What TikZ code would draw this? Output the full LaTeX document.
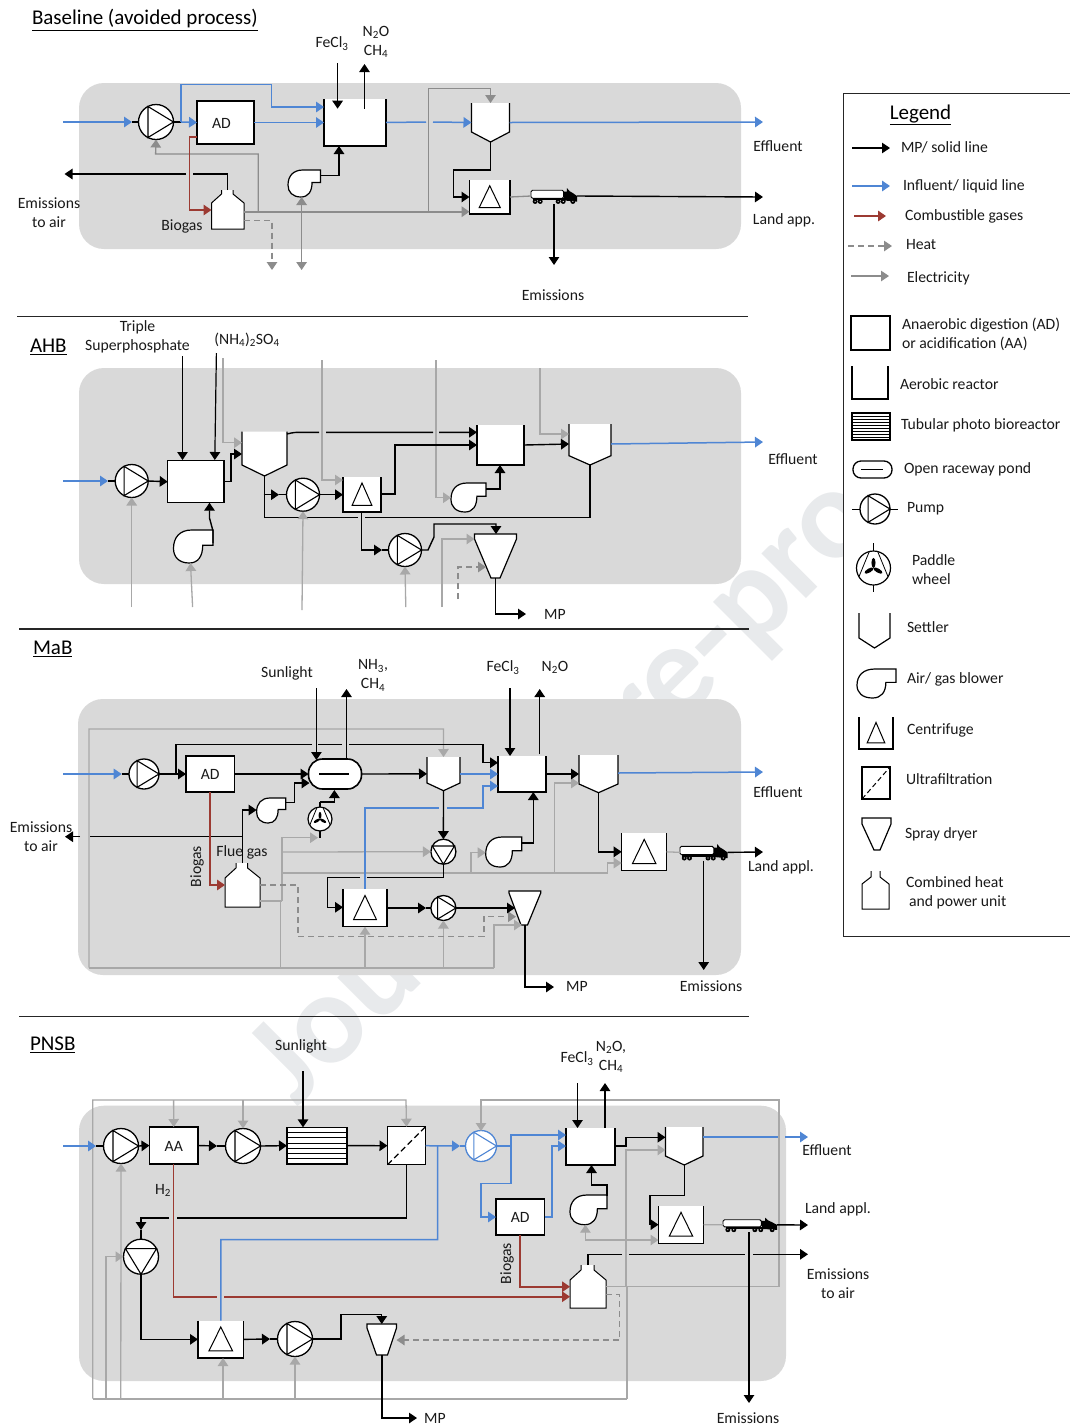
\documentclass[tikz,border=0pt]{standalone}
\usepackage{fontspec}
\setmainfont{Carlito}
\usetikzlibrary{arrows.meta,calc}
\definecolor{panel}{HTML}{D9D9D9}
\definecolor{liqblue}{HTML}{4F86D4}
\definecolor{gasred}{HTML}{9C3A32}
\definecolor{elecd}{HTML}{8C8C8C}
\definecolor{elecl}{HTML}{A8A8A8}
\definecolor{wmark}{HTML}{E8EAEC}
\tikzset{
 panelbg/.style={fill=panel,rounded corners=25pt},
 anc/.style={rectangle,inner sep=0pt,outer sep=0pt},
 eq/.style={line width=1.2pt,draw=black},
 eqthin/.style={line width=1pt,draw=black},
 blk/.style={line width=1.4pt,draw=black},
 blkt/.style={line width=1.2pt,draw=black},
 liq/.style={line width=1.5pt,draw=liqblue},
 gas/.style={line width=1.6pt,draw=gasred},
 elecb/.style={line width=2pt,draw=elecd},
 elecg/.style={line width=1.3pt,draw=elecd},
 elec/.style={line width=1.3pt,draw=elecl},
 heat/.style={line width=1.3pt,draw=elecd,dash pattern=on 6pt off 4pt},
 sep/.style={line width=.9pt,draw=black!85},
 lbl/.style={inner sep=0pt,outer sep=0pt,align=center,yshift=-.5pt,font=\fontsize{15.7}{19}\selectfont,text=black!90},
 lbll/.style={lbl,anchor=west,align=left},
 ttl/.style={inner sep=0pt,outer sep=0pt,font=\fontsize{21}{24}\selectfont},
}
\newcommand{\anchorbox}[5]{%
 \pgfmathsetmacro\Wu{#4-(#2)}\pgfmathsetmacro\Hu{#5-(#3)}%
 \node[anc,minimum width=\Wu pt,minimum height=\Hu pt] (#1) at ({(#2+#4)/2},{(#3+#5)/2}) {};}
\newcommand{\unitbox}[6]{\anchorbox{#1}{#2}{#3}{#4}{#5}%
 \draw[eq,fill=white] (#2,#3) rectangle (#4,#5);
 \node[lbl] (#1t) at (#1.center) {#6};}
\newcommand{\reactorunit}[5]{\anchorbox{#1}{#2}{#3}{#4}{#5}%
 \fill[white] (#2,#3) rectangle (#4,#5);
 \draw[eq] (#2,#3) -- (#2,#5) -- (#4,#5) -- (#4,#3);}
\newcommand{\settlerunit}[6]{\anchorbox{#1}{#2}{#3}{#4}{#5}%
 \fill[white] (#2,#3) -- (#2,#6) -- ({(#2+#4)/2},#5) -- (#4,#6) -- (#4,#3) -- cycle;
 \draw[eq] (#2,#3) -- (#2,#6) -- ({(#2+#4)/2},#5) -- (#4,#6) -- (#4,#3);}
\newcommand{\centrifugeunit}[5]{\reactorunit{#1}{#2}{#3}{#4}{#5}%
 \draw[eqthin,line join=miter] ({(#2+#4)/2},{#3+.17*(#5-#3)}) -- ({#2+.24*(#4-#2)},{#3+.81*(#5-#3)}) -- ({#2+.76*(#4-#2)},{#3+.81*(#5-#3)}) -- cycle;}
\newcommand{\blowerunit}[5]{\anchorbox{#1}{#2}{#3}{#4}{#5}%
 \begin{scope}[shift={(#2,#3)},x=\Wu pt,y=-\Hu pt]
 \draw[eq,fill=white] (1,0) -- (1,.46) -- (.74,.46) .. controls (.74,.8) and (.62,1) .. (.4,1) .. controls (.14,1) and (0,.82) .. (0,.56) .. controls (0,.22) and (.16,0) .. (.46,0) -- cycle;
 \end{scope}}
\newcommand{\pumpunit}[6]{%
 \node[circle,draw=#6,fill=white,line width=1.3pt,inner sep=0pt,outer sep=0pt,minimum size={2*#4*1pt}] (#1) at (#2,#3) {};
 \begin{scope}[shift={(#2,#3)},rotate=#5]
 \draw[draw=#6,line width=1.1pt] ({-.46*#4},{-.887*#4}) -- (#4,0) -- ({-.46*#4},{.887*#4}) -- cycle;
 \end{scope}}
\newcommand{\sprayunit}[8]{\anchorbox{#1}{#2}{#3}{#4}{#5}%
 \draw[eq,fill=white] (#2,#3) -- (#4,#3) -- (#4,#6) -- (#8,#5) -- (#7,#5) -- (#2,#6) -- cycle;}
\newcommand{\chpunit}[9]{\anchorbox{#1}{#2}{#3}{#4}{#5}%
 \fill[white] (#6,#3) -- (#6,#8) -- (#2,#9) -- (#2,#5) -- (#4,#5) -- (#4,#9) -- (#7,#8) -- (#7,#3) -- cycle;
 \draw[eqthin] (#6,#3) -- (#6,#8) -- (#2,#9) -- (#2,#5) -- (#4,#5) -- (#4,#9) -- (#7,#8) -- (#7,#3);}
\newcommand{\truckunit}[5]{\anchorbox{#1}{#2}{#3}{#4}{#5}%
 \begin{scope}[shift={(#2,#3)},x=\Wu pt,y=-\Hu pt]
 \draw[line width=.9pt,fill=white,rounded corners=1.5pt] (.0,.14) rectangle (.71,.64);
 \fill[black] (.72,.78) -- (.72,.22) -- (.78,.22) -- (.78,0) -- (.84,.2) -- (.9,.3) -- (1,.5) -- (1,.85) -- cycle;
 \fill[black] (.05,.62) rectangle (.8,.76);
 \foreach \wx in {.09,.2,.59,.7,.91}{\fill[black] (\wx,.84) circle (2.5pt); \fill[white] (\wx,.84) circle (.6pt);}
 \end{scope}}
\newcommand{\paddleunit}[4]{%
 \node[circle,draw=black,fill=white,line width=1.2pt,inner sep=0pt,outer sep=0pt,minimum size={2*#4*1pt}] (#1) at (#2,#3) {};
 \begin{scope}[shift={(#2,#3)}]
 \draw[line width=.8pt] ({-.25*#4},{-.96*#4}) -- ({-.85*#4},{.5*#4}) ({.25*#4},{-.96*#4}) -- ({.85*#4},{.5*#4});
 \foreach \ang in {90,210,330}{\fill[black,rotate=\ang] ({.3*#4},0) ellipse ({.3*#4} and {.12*#4});}
 \end{scope}}
\newcommand{\legarrow}[5]{\coordinate (#1a) at (#3,#5); \coordinate (#1b) at (#4,#5); \draw[#2,->] (#1a) -- (#1b);}
\begin{document}
\begin{tikzpicture}[x=1pt,y=-1pt,>={Triangle[length=8pt,width=10.5pt]}]
\clip (0,0) rectangle (1070,1425);
\fill[white] (0,0) rectangle (1070,1425);
\node[anchor=base west,rotate=45,inner sep=0pt,text=wmark,font=\bfseries\fontsize{130}{130}\selectfont] (wm) at (297,1108) {Journal Pre-proof};
%% ---------- Baseline
\fill[panelbg] (79,83) rectangle (741,249);
\node[ttl,anchor=west] (btitle) at (32,20) {\underline{Baseline (avoided process)}};
\node[lbl] (bfe) at (332,43) {FeCl\textsubscript{3}};
\node[lbl] (bn2o) at (376,41) {N\textsubscript{2}O\\CH\textsubscript{4}};
\node[lbl] (beff) at (778,146) {Effluent};
\node[lbl] (bland) at (784,220) {Land app.};
\node[lbl] (bemair) at (49,212) {Emissions\\to air};
\node[lbl] (bbio) at (182,226) {Biogas};
\node[lbl] (bem) at (553,295) {Emissions};
\pumpunit{bp}{156}{122}{17.5}{0}{black}
\unitbox{bad}{197}{101}{254}{144}{AD\hspace{8pt}}
\reactorunit{bre}{324}{99}{386}{146}
\settlerunit{bse}{471.5}{103}{509.5}{142}{132}
\blowerunit{bbl}{288}{170}{320.5}{197}
\centrifugeunit{bce}{469.5}{180}{510}{214}
\truckunit{btr}{531}{188}{577}{204}
\chpunit{bch}{211.5}{190}{244}{229}{221.5}{233}{194}{203}
\coordinate (bin) at (63,122); \coordinate (bit) at (132,122); \coordinate (bst) at (181,122);
\draw[liq,->] (bin) -- (bit);
\draw[blk] (bit) -- (bp.west);
\draw[blk] (bp.east) -- (bst);
\draw[liq,->] (bst) -- (bad.west);
\draw[liq,->] (bst) |- (271.4,84.7) |- (bre.west|-0,107);
\draw[liq,->] (bad.east) -- (bre.west);
\coordinate (beffe) at (763,122);
\draw[liq,->] (bre.east) -- (426,122) (433,122) -- (bse.west);
\draw[liq,->] (bse.east) -- (beffe);
\draw[elecb,->] (bch.east|-0,211.7) -- (bce.west|-0,211.7);
\draw[elecg,->] (258.2,211.7) |- (155.6,154) -- (bp.south);
\draw[elecg,->] (428.6,211.7) |- (490.5,88.3) -- (bse.north);
\coordinate (bdbl) at (301.6,270);
\draw[elecg,<->] (301.6,0|-bbl.south) -- (bdbl);
\coordinate (bheat) at (272,270);
\draw[heat,->] (bch.east|-0,220.7) -| (bheat);
\draw[gas,->] (bad.west|-0,136.7) -| (189.4,210) -- (bch.west|-0,210);
\coordinate (bair) at (64.5,174);
\draw[blk,->] (bch.north) |- (193,174) (186,174) -- (bair);
\draw[blk,->] (bbl.east|-0,175.7) -| (339,0|-bre.south);
\coordinate (bfei) at (337.6,63); \coordinate (bfeo) at (337.6,108.7);
\draw[blkt,->] (bfei) -- (bfeo);
\coordinate (bgi) at (364.5,108.7); \coordinate (bgo) at (364.5,64);
\draw[blkt,->] (bgi) -- (bgo);
\draw[blk,->] (bse.south) |- (453.5,170) |- (bce.west);
\draw[elecg] (bce.east) -- (btr.west);
\coordinate (blan) at (763,197);
\draw[blk,->] (btr.east) -- (blan);
\coordinate (bemo) at (554,265);
\draw[blkt,->] (554,0|-btr.south) -- (bemo);
%% ---------- AHB
\draw[sep] (17,316) -- (748,316);
\fill[panelbg] (79,368) rectangle (741,584);
\node[ttl,anchor=west] (htitle) at (30,347) {\underline{AHB}};
\node[lbl] (htsp) at (137.5,336.5) {Triple\\Superphosphate};
\node[lbl] (hnh) at (247,339) {(NH\textsubscript{4})\textsubscript{2}SO\textsubscript{4}};
\node[lbl] (heff) at (793,459) {Effluent};
\node[lbl] (hmp) at (555,614) {MP};
\pumpunit{hp1}{131.7}{481}{16.5}{0}{black}
\unitbox{hd}{167.7}{460.7}{224}{502.7}{}
\settlerunit{hs1}{242}{431.7}{287}{476}{465}
\pumpunit{hp2}{303}{494.7}{16.5}{0}{black}
\centrifugeunit{hc}{343}{477}{381}{512}
\pumpunit{hp3}{405}{550}{16.5}{0}{black}
\sprayunit{hsp}{474.5}{534}{516.5}{578}{539}{491}{500}
\reactorunit{hr}{477}{425}{524}{465}
\blowerunit{hb1}{173.5}{530}{213}{563}
\blowerunit{hb2}{451}{483}{486}{512}
\settlerunit{hs2}{569}{424}{611}{465}{455.7}
\coordinate (hin) at (63,481); \coordinate (hit) at (108,481);
\draw[liq,->] (hin) -- (hit);
\draw[blk] (hit) -- (hp1.west);
\draw[blk,->] (hp1.east) -- (hd.west);
\coordinate (htp) at (182.5,356); \coordinate (htq) at (182.5,460);
\draw[blkt,->] (htp) -- (htq);
\coordinate (hnp) at (216.4,353); \coordinate (hnq) at (214.8,460);
\draw[blkt,->] (hnp) -- (hnq);
\coordinate (hg1) at (223,358);
\draw[elec,->] (hg1) |- (hs1.west|-0,442.7);
\draw[blk,->] (hd.east) -| (231,454) -- (hs1.west|-0,454);
\draw[blk,->] (hs1.east|-0,434) .. controls (293,432.3) and (297,432.3) .. (300,432.3) -- (319,432.3) (326,432.3) -- (433,432.3) (439,432.3) -- (hr.west|-0,432.3);
\coordinate (hg2) at (322,360);
\draw[elec,->] (hg2) |- (hc.west|-0,480);
\coordinate (hg3) at (436,360);
\draw[elec,->] (hg3) |- (hb2.west|-0,497.7);
\coordinate (hg4) at (540,368);
\draw[elec,->] (hg4) |- (hs2.west|-0,434);
\draw[blk] (hs1.south) |- (358,517.7) (365,517.7) -| (hs2.south);
\coordinate (hbr) at (263.5,494.7); \coordinate (hbt) at (279,494.7);
\draw[blk,->] (hbr) -- (hbt);
\draw[blk] (hbt) -- (hp2.west);
\draw[blk,->] (hp2.east) -- (hc.west|-hp2.east);
\draw[blk,->] (hc.east|-0,494) -| (395,445) -- (hr.west|-0,445);
\coordinate (hct) at (382,550);
\draw[blk,->] (361.4,0|-hc.south) |- (hct);
\draw[blk] (hct) -- (hp3.west);
\draw[blk,->] (hp3.east) -- (428,550) -- (434,537) |- (496,524) -- (496,0|-hsp.north);
\coordinate (hg5) at (442,607);
\draw[elec,->] (hg5) |- (hsp.west|-0,539);
\coordinate (hh) at (458,599);
\draw[heat,->] (hh) |- (486,567);
\draw[blk,->] (hr.east|-0,445) -- (hs2.west|-0,444);
\coordinate (heffe) at (763,442);
\draw[liq,->] (hs2.east|-0,444) -- (heffe);
\coordinate (hmpe) at (526,614);
\draw[blk,->] (hsp.south) |- (hmpe);
\draw[blk,->] (hb1.east|-0,543) -- (213,531) -- (209.5,518) -- (209.5,0|-hd.south);
\draw[blk,->] (hb2.east|-0,489) -| (500,0|-hr.south);
\coordinate (hu1) at (131.7,607); \draw[elec,->] (hu1) -- (hp1.south);
\coordinate (hu2) at (192.6,607); \coordinate (hu2b) at (190.5,563); \draw[elec,->] (hu2) -- (hu2b);
\coordinate (hu3) at (302,610); \draw[elec,->] (hu3) -- (hp2.south);
\coordinate (hu4) at (405.8,607); \draw[elec,->] (hu4) -- (hp3.south);
%% ---------- MaB
\draw[sep,line width=1.2pt] (19,629) -- (749,629);
\fill[panelbg] (78,699) rectangle (741,975);
\node[ttl,anchor=west] (mtitle) at (33,649) {\underline{MaB}};
\node[lbl] (msun) at (287,673) {Sunlight};
\node[lbl] (mnh) at (373,675) {NH\textsubscript{3},\\CH\textsubscript{4}};
\node[lbl] (mfe) at (503,667) {FeCl\textsubscript{3}};
\node[lbl] (mn2o) at (555,667) {N\textsubscript{2}O};
\node[lbl] (meff) at (778,792) {Effluent};
\node[lbl] (mland) at (781,867) {Land appl.};
\node[lbl] (mair) at (41,836) {Emissions\\to air};
\node[lbl] (mmp) at (577,986) {MP};
\node[lbl] (mem) at (711,986) {Emissions};
\pumpunit{mp1}{144}{774}{15}{0}{black}
\unitbox{mad}{186}{756}{234.4}{792}{AD}
\node[draw=black,line width=1.6pt,fill=white,rounded corners=14pt,inner sep=0pt,outer sep=0pt,minimum width=53pt,minimum height=30pt] (mpo) at (335,774) {};
\coordinate (mpoa) at (319,774); \coordinate (mpob) at (349,774);
\draw[blk] (mpoa) -- (mpob);
\settlerunit{ms1}{427}{757}{460}{790.7}{783}
\reactorunit{mr}{498}{756}{546}{792}
\settlerunit{ms2}{579}{755}{618}{792.7}{784}
\centrifugeunit{mc1}{621.7}{833}{666.7}{870.7}
\truckunit{mtr}{680}{844}{727.5}{860.7}
\blowerunit{mb1}{256.6}{798}{285.7}{823}
\coordinate (mpdt) at (320,802); \coordinate (mpdb) at (320,838);
\draw[blkt] (mpdt) -- (mpdb);
\paddleunit{mpd}{320}{819}{12}
\pumpunit{mpu}{443.4}{851.7}{12.5}{-90}{black}
\blowerunit{mb2}{485.7}{837}{521.7}{867}
\chpunit{mch}{225}{863}{260}{907}{236}{247.6}{868}{878}
\centrifugeunit{mc2}{343}{889}{387}{926.7}
\pumpunit{mp3}{443.4}{908}{12.5}{0}{black}
\sprayunit{msp}{509}{891}{540.7}{925}{893}{521}{527.5}
\node[lbl,rotate=90] (mbio) at (197,866) {Biogas};
% electricity
\coordinate (mg0) at (282,901);
\draw[elec] (mch.east|-mg0) -- (mg0);
\draw[elec,->] (mg0) |- (318,837.7);
\draw[elec,->] (282,852) -- (mpu.west);
\draw[elec,->] (282,873) -| (607.4,863) -- (mc1.west|-0,863);
\draw[elec,->] (471,873) |- (mb2.west|-0,852.7);
\draw[elec,->] (554.5,873) |- (ms2.west|-0,783);
\draw[elec,line width=1.6pt] (280.4,901) -- (280.4,967.7);
\coordinate (mgl) at (89,967.7);
\draw[elec,line width=1.6pt] (mgl) -- (494,967.7);
\draw[elec,->] (494,967.7) |- (522,925);
\draw[elec,->] (mgl) |- (443.4,729) -- (ms1.north);
\draw[elec,->] (365,967.7) -- (mc2.south);
\draw[elec,->] (443.4,967.7) -- (mp3.south);
\draw[heat,->] (mch.east|-0,885) -| (298,936.7) -| (484,916.7) -- (516,916.7);
% black
\coordinate (min) at (63,774); \coordinate (mit) at (121.7,774);
\draw[liq,->] (min) -- (mit);
\draw[blk] (mit) -- (mp1.west);
\draw[blk,->] (mp1.east) -- (mad.west);
\draw[blk,->] (176,774) |- (312,744.3) (318,744.3) -- (342,744.3) (349,744.3) -| (483,762.7) -- (mr.west|-0,762.7);
\draw[blk,->] (mad.east) -- (mpo.west);
\draw[blk,->] (mpo.east) -- (ms1.west);
\draw[liq,->] (ms1.east|-0,774) -- (mr.west|-0,774);
\draw[blk,->] (mr.east|-0,774) -- (ms2.west|-0,774);
\coordinate (meffe) at (763,772);
\draw[liq,->] (ms2.east|-0,773) -- (meffe);
\draw[liq,->] (mc2.north) |- (439,808) (447,808) -| (483,786) -- (mr.west|-0,786);
\draw[blk,->] (ms1.south) -- (mpu.north);
\draw[blk,->] (mpu.south) |- (367,877.7) (360,877.7) -| (327.5,907.3) -- (mc2.west|-0,907.3);
\coordinate (mct) at (426,908);
\draw[blk,->] (mc2.east|-mct) -- (mct);
\draw[blk] (mct) -- (mp3.west);
\coordinate (mspt) at (515,908);
\draw[blk,->] (mp3.east) -- (mspt);
\coordinate (mmpe) at (554,987);
\draw[blk,->] (msp.south) |- (mmpe);
\coordinate (msuna) at (316.4,688); \coordinate (msunb) at (316.4,760);
\draw[blkt,->] (msuna) -- (msunb);
\coordinate (mupa) at (346.5,758); \coordinate (mupb) at (346.5,689);
\draw[blkt,->] (mupa) -- (mupb);
\coordinate (mfea) at (510,688); \coordinate (mfeb) at (510,756);
\draw[blkt,->] (mfea) -- (mfeb);
\coordinate (mua) at (539.7,754); \coordinate (mub) at (539.7,689);
\draw[blkt,->] (mua) -- (mub);
\draw[blk,->] (mpdt) -| (334.4,790);
\draw[blk,->] (mb1.east|-0,802.7) -| (294.7,783) -- (309.5,783);
\draw[blk,->] (mch.north) |- (mb1.west|-0,810);
\coordinate (mair2) at (65,836.7);
\draw[blk,->] (242.3,836.7) -- (90,836.7) (80,836.7) -- (mair2);
\draw[gas,->] (210,0|-mad.south) |- (mch.west|-0,885);
\draw[blk,->] (ms2.south) |- (mc1.west);
\draw[elec] (mc1.east) -- (mtr.west);
\coordinate (mlan) at (763,852);
\draw[blk,->] (mtr.east) -- (mlan);
\coordinate (mema) at (703.7,970);
\draw[blkt,->] (703.7,0|-mtr.south) -- (mema);
\draw[blk,->] (mb2.east|-0,843) -| (533.3,0|-mr.south);
\node[lbl] (mflue) at (242,852) {Flue gas};
%% ---------- PNSB
\draw[sep] (19,1016) -- (749,1016);
\fill[panelbg] (79,1105.7) rectangle (786,1381);
\node[ttl,anchor=west] (ptitle) at (30,1045) {\underline{PNSB}};
\node[lbl] (psun) at (301,1046) {Sunlight};
\node[lbl] (pfe) at (577,1058) {FeCl\textsubscript{3}};
\node[lbl] (pn2o) at (611,1056.5) {N\textsubscript{2}O,\\CH\textsubscript{4}};
\node[lbl] (peff) at (827,1150) {Effluent};
\node[lbl] (pland) at (838,1209) {Land appl.};
\node[lbl] (pair) at (838,1283.5) {Emissions\\to air};
\node[lbl] (pmp) at (435,1418) {MP};
\node[lbl] (pem) at (748,1418) {Emissions};
\node[lbl] (ph2) at (163,1190) {H\textsubscript{2}};
\node[lbl,rotate=90] (pbio) at (507,1263) {Biogas};
\pumpunit{pp1}{121}{1146}{17.5}{0}{black}
\unitbox{paa}{149.5}{1127}{198}{1164}{AA}
\pumpunit{pp2}{243}{1146}{17.5}{0}{black}
\unitbox{ptb}{287}{1127.3}{347}{1164}{}
\foreach \ty in {1132.5,1137.7,1143,1148.2,1153.4,1158.6}{\draw[line width=1pt] (287,\ty) -- (347,\ty);}
\unitbox{puf}{387.5}{1126.7}{425.5}{1164.7}{}
\draw[line width=1.2pt,dash pattern=on 6pt off 3.5pt] (puf.south west) -- (puf.north east);
\pumpunit{ppb}{481}{1146}{15.5}{0}{liqblue}
\reactorunit{pr}{566}{1128}{615}{1165}
\settlerunit{ps}{665.5}{1127}{703}{1165}{1156}
\unitbox{pad}{496}{1199}{544.5}{1235}{AD}
\blowerunit{pb}{570}{1195}{607}{1224.7}
\centrifugeunit{pc1}{658.5}{1206}{703.5}{1243.3}
\truckunit{ptr}{723}{1217.7}{777}{1232}
\chpunit{pch}{570}{1265}{606}{1308}{581}{594}{1270}{1280}
\pumpunit{ppd}{141}{1256.7}{17.5}{-90}{black}
\centrifugeunit{pc2}{198}{1320.7}{243.5}{1358}
\pumpunit{pp3}{295}{1339}{17.5}{0}{black}
\sprayunit{psp}{367}{1324}{396.5}{1355}{1328}{376.5}{387.5}
% electricity
\coordinate (pgbl) at (92.7,1398.7); \coordinate (pgbr) at (627,1398.7);
\draw[elec,line width=1.6pt] (pgbl) -- (pgbr);
\draw[elec,line width=1.6pt] (pgbr) -- (627,1286.7);
\draw[elec,->] (pgbl) |- (406,1100) -- (puf.north);
\draw[elec,->] (173.6,1100) -- (paa.north);
\draw[elec,->] (243,1100) -- (pp2.north);
\draw[elec,->] (120.8,1398.7) -- (pp1.south);
\draw[elec,->] (106,1398.7) |- (ppd.west);
\draw[elec,->] (223,1398.7) -- (223,0|-pc2.south);
\draw[elec,->] (295,1398.7) -- (pp3.south);
\draw[elec,->] (pch.east|-0,1286.7) -| (779,1100) -| (481,1131);
\draw[elec,->] (626,1286.7) |- (ps.west|-0,1150);
\draw[elec,->] (626,1240) -| (585.4,0|-pb.south);
\draw[elec,->] (626,1240) -- (pc1.west|-0,1240);
\draw[heat,->] (pch.east|-0,1294.7) -| (619.7,1340) -- (psp.east|-0,1340);
% process
\coordinate (pin) at (63,1146); \coordinate (pit) at (96,1146);
\draw[liq,->] (pin) -- (pit);
\draw[blk] (pit) -- (pp1.west);
\draw[blk,->] (pp1.east) -- (paa.west);
\coordinate (pat) at (217,1146);
\draw[blk,->] (paa.east) -- (pat);
\draw[blk] (pat) -- (pp2.west);
\draw[blk,->] (pp2.east) -- (ptb.west);
\draw[blk,->] (ptb.east) -- (puf.west);
\coordinate (psa) at (303,1071);
\draw[blk,->] (psa) -- (303,0|-ptb.north);
\coordinate (put) at (460,1146);
\draw[liq,->] (puf.east) -- (put);
\draw[liq] (put) -- (ppb.west);
\draw[liq] (437.5,1146) |- (220.8,1239.7) -- (pc2.north);
\draw[liq,->] (ppb.east) -| (511,1135) -- (pr.west|-0,1135);
\draw[liq,->] (511,1146) |- (481,1183.7) |- (pad.west);
\draw[liq,->] (pad.east) -| (552,1146) -- (pr.west|-0,1146);
\draw[blk,->] (pr.east|-0,1146) -| (626,1137.3) -- (ps.west|-0,1137.3);
\coordinate (peffe) at (808,1137);
\draw[liq,->] (ps.east|-0,1137) -- (778,1137) (785,1137) -- (peffe);
\coordinate (ppdt) at (141,1230);
\draw[blk,->] (puf.south) |- (177,1218) (169,1218) -| (ppdt);
\draw[blk] (ppdt) -- (ppd.north);
\draw[blk,->] (ppd.south) |- (pc2.west);
\coordinate (pct) at (270,1339);
\draw[blk,->] (pc2.east) -- (pct);
\draw[blk] (pct) -- (pp3.west);
\draw[blk,->] (pp3.east) -| (341,1314.3) -| (psp.north);
\coordinate (pmpe) at (417,1418);
\draw[blk,->] (382,0|-psp.south) |- (pmpe);
\draw[gas,->] (173.6,0|-paa.south) |- (217,1296.7) (224,1296.7) -- (pch.west|-0,1296.7);
\draw[gas,->] (520,0|-pad.south) |- (pch.west|-0,1286.7);
\draw[blk,->] (pb.east|-0,1196) -- (607,1185) -| (591.5,0|-pr.south);
\draw[blk,->] (ps.south) |- (650,1195.7) |- (pc1.west);
\draw[elec] (pc1.east) -- (ptr.west);
\coordinate (plan) at (808,1225);
\draw[blk,->] (ptr.east) -- (plan);
\coordinate (pdn) at (749,1403);
\draw[blkt,->] (749,0|-ptr.south) -- (pdn);
\coordinate (pemo) at (808,1254.3);
\draw[blk,->] (pch.north) |- (622,1254.3) (629,1254.3) -- (745,1254.3) (753,1254.3) -- (pemo);
\coordinate (pfa) at (577.5,1083); \coordinate (pfb) at (577.5,1128);
\draw[blkt,->] (pfa) -- (pfb);
\coordinate (pua) at (605,1128); \coordinate (pub) at (605,1083);
\draw[blkt,->] (pua) -- (pub);
%% ---------- Legend
\draw[line width=1pt,draw=black!85,fill=white] (1080,93) -- (843.5,93) -- (843.5,936) -- (1080,936);
\node[ttl] (ltitle) at (920.5,115) {\underline{Legend}};
\legarrow{la}{blkt}{852}{890}{148}
\legarrow{lb}{liq}{852}{890}{186}
\legarrow{lc}{gas}{854}{886}{216}
\legarrow{ld}{heat}{848}{892}{246}
\legarrow{le}{elecg}{851}{889}{276}
\node[lbll] (lat) at (901,147) {MP/ solid line};
\node[lbll] (lbt) at (903,186) {Influent/ liquid line};
\node[lbll] (lct) at (905,216) {Combustible gases};
\node[lbll] (ldt) at (906,244) {Heat};
\node[lbll] (let) at (907,278) {Electricity};
\unitbox{lad}{851}{316}{890}{350}{}
\node[lbll] (ladt) at (902,334) {Anaerobic digestion (AD)\\or acidification (AA)};
\reactorunit{lre}{852}{366}{888}{399}
\node[lbll] (lret) at (900,384) {Aerobic reactor};
\unitbox{ltb}{852}{413}{890}{440}{}
\foreach \ty in {416,419,422,425,428,431,434,437}{\draw[line width=.6pt] (852,\ty) -- (890,\ty);}
\node[lbll] (ltbt) at (901,425) {Tubular photo bioreactor};
\node[draw=black,line width=1.3pt,fill=white,rounded corners=8pt,inner sep=0pt,outer sep=0pt,minimum width=39pt,minimum height=17pt] (lpo) at (872.5,469.5) {};
\coordinate (lpoa) at (861,469.5); \coordinate (lpob) at (883,469.5);
\draw[line width=1.2pt] (lpoa) -- (lpob);
\node[lbll] (lpot) at (904,469) {Open raceway pond};
\coordinate (lpua) at (852,509); \coordinate (lpub) at (898,509);
\draw[line width=1pt] (lpua) -- (lpub);
\pumpunit{lpu}{875}{509}{15}{0}{black}
\node[lbll] (lput) at (907,508) {Pump};
\coordinate (lpaa) at (873.5,543); \coordinate (lpab) at (873.5,592);
\draw[line width=1pt] (lpaa) -- (lpab);
\paddleunit{lpa}{873.5}{568}{17}
\node[lbll] (lpat) at (912,569.5) {Paddle\\wheel};
\settlerunit{lse}{859}{613}{890}{648}{638}
\node[lbll] (lset) at (907,627) {Settler};
\blowerunit{lbl}{857}{669}{896}{698}
\node[lbll] (lblt) at (907,679) {Air/ gas blower};
\centrifugeunit{lce}{859}{717}{893}{749}
\node[lbll] (lcet) at (907,730) {Centrifuge};
\unitbox{luf}{862}{767}{890}{799}{}
\draw[line width=1pt,dash pattern=on 5pt off 3pt] (luf.south west) -- (luf.north east);
\node[lbll] (luft) at (906,779) {Ultrafiltration};
\sprayunit{lsp}{862}{818}{891}{850}{824}{874}{880}
\node[lbll] (lspt) at (905,834) {Spray dryer};
\chpunit{lch}{862}{871}{889}{909}{871}{880}{877}{884}
\node[lbll] (lcht) at (906,892.5) {Combined heat\\\hspace{3pt}and power unit};
\end{tikzpicture}
\end{document}
